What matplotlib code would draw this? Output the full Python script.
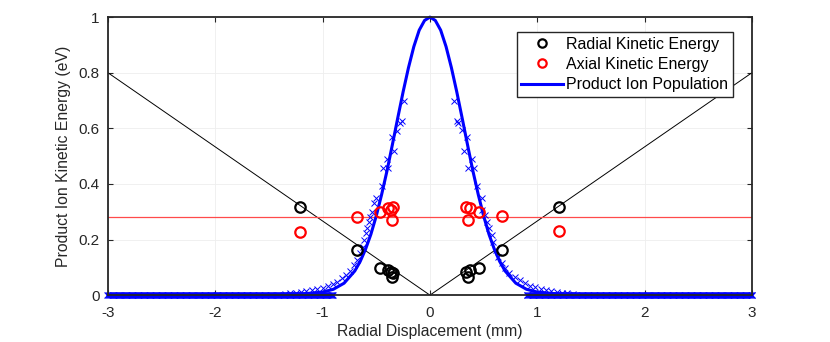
import numpy as np
import matplotlib.pyplot as plt

plt.rcParams['font.family'] = ['Liberation Sans', 'DejaVu Sans']
plt.rcParams['axes.unicode_minus'] = False

# fitted population profile (mm, normalised)
curve_x = [-3.0, -2.0, -1.5, -1.2, -1.0, -0.9, -0.8, -0.7, -0.65, -0.6, -0.55, -0.5,
           -0.45, -0.4, -0.35, -0.3, -0.25, -0.2, -0.15, -0.1, -0.05, 0.0,
           0.05, 0.1, 0.15, 0.2, 0.25, 0.3, 0.35, 0.4, 0.45, 0.5, 0.55, 0.6,
           0.65, 0.7, 0.8, 0.9, 1.0, 1.2, 1.5, 2.0, 3.0]
curve_y = [0.0, 0.0, 0.001, 0.004, 0.011, 0.021, 0.043, 0.087, 0.121, 0.165, 0.219, 0.285,
           0.362, 0.447, 0.541, 0.637, 0.731, 0.818, 0.894, 0.953, 0.988, 1.0,
           0.988, 0.953, 0.894, 0.818, 0.731, 0.637, 0.541, 0.447, 0.362, 0.285, 0.219, 0.165,
           0.121, 0.087, 0.043, 0.021, 0.011, 0.004, 0.001, 0.0, 0.0]

# simulated ion population near the centre
pop_x = [-0.239, -0.264, -0.280, -0.310, -0.357, -0.332, -0.398, -0.435, -0.388, -0.450,
         -0.503, -0.520, -0.544, -0.559, -0.565, -0.584, -0.596, -0.612, -0.627, -0.652,
         -0.683, -0.708, -0.745, -0.783, -0.823, -0.870, -0.906, -0.95, -1.00, -1.05,
         -1.10, -1.15, -1.20, -1.25, -1.30, -1.35,
         0.224, 0.248, 0.264, 0.295, 0.342, 0.320, 0.388, 0.357, 0.410, 0.441,
         0.487, 0.481, 0.512, 0.534, 0.553, 0.575, 0.590, 0.615, 0.637, 0.668,
         0.699, 0.739, 0.792, 0.839, 0.885, 0.93, 0.98, 1.03, 1.08,
         1.13, 1.18, 1.23, 1.28, 1.33]
pop_y = [0.699, 0.627, 0.618, 0.591, 0.569, 0.519, 0.488, 0.456, 0.456, 0.392,
         0.351, 0.330, 0.300, 0.282, 0.264, 0.240, 0.222, 0.198, 0.174, 0.150,
         0.126, 0.108, 0.087, 0.072, 0.060, 0.048, 0.040, 0.032, 0.026, 0.022,
         0.018, 0.014, 0.011, 0.008, 0.006, 0.004,
         0.699, 0.627, 0.618, 0.594, 0.569, 0.519, 0.488, 0.456, 0.456, 0.392,
         0.351, 0.306, 0.288, 0.264, 0.240, 0.216, 0.192, 0.162, 0.138, 0.114,
         0.096, 0.080, 0.066, 0.054, 0.044, 0.034, 0.028, 0.022, 0.018,
         0.014, 0.011, 0.008, 0.006, 0.004]
# far wings sit on the baseline
wing_x = np.arange(0.90, 3.005, 0.008)
wing_y = 0.002

# per-ion energies
ion_x = [-1.21, -0.683, -0.466, -0.388, -0.363, -0.342, -0.357,
         1.205, 0.668, 0.459, 0.373, 0.335, 0.351]
radial_ke = [0.317, 0.164, 0.098, 0.090, 0.084, 0.080, 0.066,
             0.318, 0.164, 0.099, 0.092, 0.084, 0.066]
axial_ke = [0.228, 0.282, 0.300, 0.312, 0.306, 0.318, 0.270,
            0.231, 0.284, 0.300, 0.312, 0.318, 0.270]
axial_mean = 0.282

# radial energy model
model_x = [-3, 0, 3]
model_y = [0.8, 0, 0.8]

fig = plt.figure(figsize=(8.3, 3.42), dpi=100)
ax = fig.add_axes([0.130, 0.137, 0.776, 0.813])

ax.plot(model_x, model_y, color='k', lw=0.7, zorder=2)
ax.axhline(axial_mean, color='#ff4a4a', lw=0.9, zorder=2)

kw = dict(ls='none', marker='x', ms=4.8, mew=0.7, color='b', clip_on=False, zorder=3)
ax.plot(pop_x, pop_y, **kw)
ax.plot(wing_x, np.full_like(wing_x, wing_y), **kw)
ax.plot(-wing_x, np.full_like(wing_x, wing_y), **kw)
h_pop, = ax.plot(curve_x, curve_y, color='b', lw=2.2, zorder=4, clip_on=False)

h_rad, = ax.plot(ion_x, radial_ke, ls='none', marker='o', ms=7.5, mew=1.6,
                 mfc='none', mec='k', zorder=5)
h_ax, = ax.plot(ion_x, axial_ke, ls='none', marker='o', ms=7.5, mew=1.6,
                mfc='none', mec='r', zorder=5)

ax.set_xlim(-3, 3)
ax.set_ylim(0, 1)
ax.set_xticks(range(-3, 4))
ax.set_yticks([0, 0.2, 0.4, 0.6, 0.8, 1])
ax.set_yticklabels(['0', '0.2', '0.4', '0.6', '0.8', '1'])
ax.grid(True, color='#eeeeee', lw=0.6)
ax.set_axisbelow(True)
ax.tick_params(direction='in', length=3.5, width=0.8, top=True, right=True,
               labelsize=11, colors='#262626')
ax.tick_params(axis='x', pad=8)
ax.tick_params(axis='y', pad=6)
for s in ax.spines.values():
    s.set_linewidth(1.3)
    s.set_color('#262626')
    s.set_zorder(6)

ax.set_xlabel('Radial Displacement (mm)', fontsize=11.3, color='#262626', labelpad=3)
ax.set_ylabel('Product Ion Kinetic Energy (eV)', fontsize=11.3, color='#262626', labelpad=5)

leg = ax.legend([h_rad, h_ax, h_pop],
                ['Radial Kinetic Energy', 'Axial Kinetic Energy', 'Product Ion Population'],
                loc='upper right', bbox_to_anchor=(0.9705, 0.947), fontsize=11.5,
                fancybox=False, framealpha=1, edgecolor='#262626',
                handlelength=2.6, handletextpad=0.2, borderpad=0.3, labelspacing=0.33,
                borderaxespad=0)
leg.get_frame().set_linewidth(1.0)
leg.legend_handles[0].set_markersize(6)
leg.legend_handles[1].set_markersize(6)

fig.savefig('out.png', dpi=100)
